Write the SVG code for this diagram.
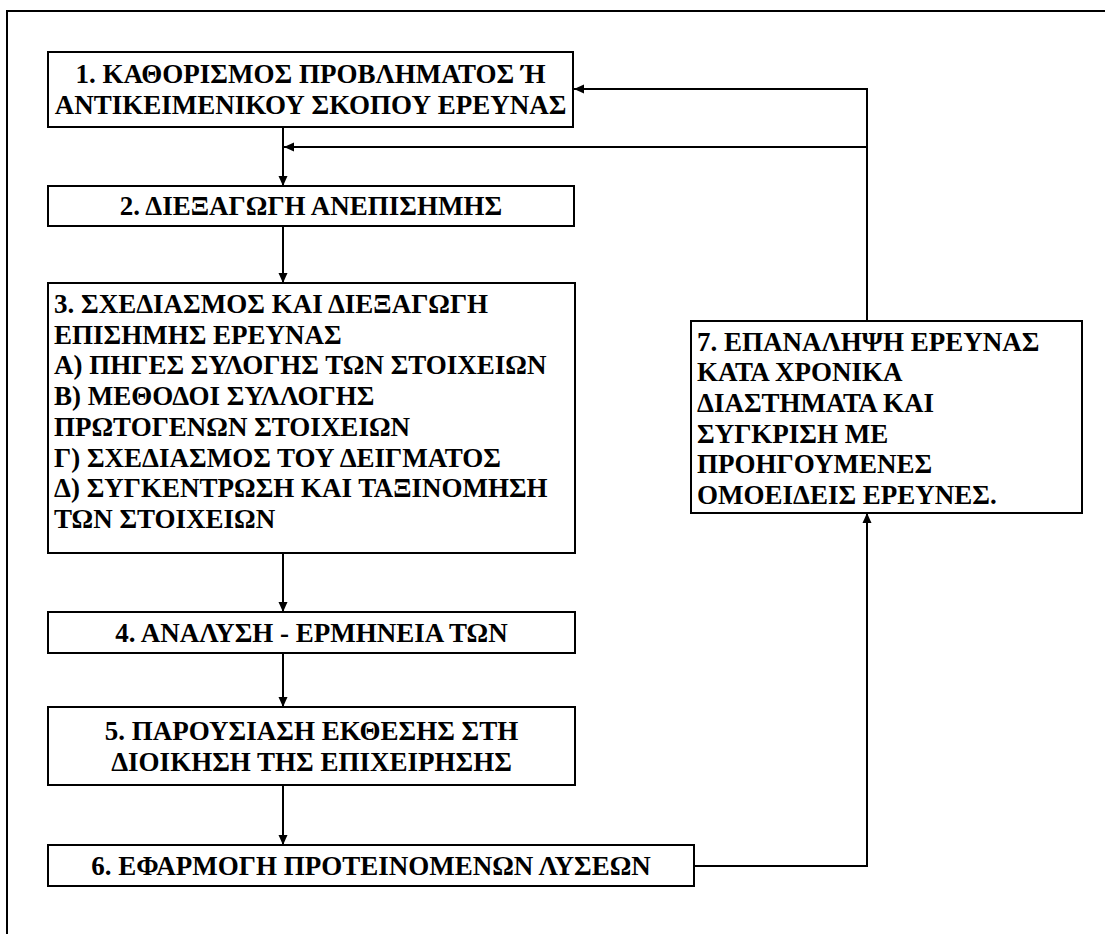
<svg xmlns="http://www.w3.org/2000/svg" width="1105" height="934" viewBox="0 0 1105 934">
  <style>
    .box { fill: #ffffff; stroke: #000000; stroke-width: 2; }
    .frame { fill: none; stroke: #000000; stroke-width: 2; }
    .wire { fill: none; stroke: #000000; stroke-width: 2; }
    .lbl { font-family: "Liberation Serif", "Times New Roman", serif; font-weight: bold; font-size: 27px; fill: #000000; }
    .c { text-anchor: middle; }
  </style>
  <defs>
    <marker id="arrow" viewBox="0 0 10 10" refX="10" refY="5" markerWidth="10" markerHeight="10" markerUnits="userSpaceOnUse" orient="auto">
      <path d="M0,0.5 L10,5 L0,9.5 Z" fill="#000000"/>
    </marker>
  </defs>

  <rect width="1105" height="934" fill="#ffffff"/>

  <!-- page frame (open at right and bottom) -->
  <path class="frame" d="M7,934 V11 H1105"/>

  <!-- connectors -->
  <g id="connectors">
    <line class="wire" x1="283" y1="127" x2="283" y2="186" marker-end="url(#arrow)"/>
    <line class="wire" x1="283" y1="226" x2="283" y2="283" marker-end="url(#arrow)"/>
    <line class="wire" x1="283" y1="553" x2="283" y2="612" marker-end="url(#arrow)"/>
    <line class="wire" x1="283" y1="653" x2="283" y2="707" marker-end="url(#arrow)"/>
    <line class="wire" x1="283" y1="785" x2="283" y2="845" marker-end="url(#arrow)"/>
    <!-- 6 -> 7 -->
    <polyline class="wire" points="694,866 867,866 867,513" marker-end="url(#arrow)"/>
    <!-- 7 -> 1 -->
    <polyline class="wire" points="867,321 867,89 574,89" marker-end="url(#arrow)"/>
    <!-- 7 -> into the 1-2 link -->
    <polyline class="wire" points="867,147 284,147" marker-end="url(#arrow)"/>
  </g>

  <g id="node1">
    <rect class="box" x="48" y="52" width="525" height="75"/>
    <text class="lbl c" x="310.5" y="83">1. ΚΑΘΟΡΙΣΜΟΣ ΠΡΟΒΛΗΜΑΤΟΣ Ή</text>
    <text class="lbl c" x="310.5" y="114">ΑΝΤΙΚΕΙΜΕΝΙΚΟΥ ΣΚΟΠΟΥ ΕΡΕΥΝΑΣ</text>
  </g>

  <g id="node2">
    <rect class="box" x="48" y="186" width="526" height="40"/>
    <text class="lbl c" x="311" y="215">2. ΔΙΕΞΑΓΩΓΗ ΑΝΕΠΙΣΗΜΗΣ</text>
  </g>

  <g id="node3">
    <rect class="box" x="48" y="283" width="527" height="270"/>
    <text class="lbl" x="54" y="313">3. ΣΧΕΔΙΑΣΜΟΣ ΚΑΙ ΔΙΕΞΑΓΩΓΗ</text>
    <text class="lbl" x="54" y="344">ΕΠΙΣΗΜΗΣ ΕΡΕΥΝΑΣ</text>
    <text class="lbl" x="54" y="374">Α) ΠΗΓΕΣ ΣΥΛΟΓΗΣ ΤΩΝ ΣΤΟΙΧΕΙΩΝ</text>
    <text class="lbl" x="54" y="405">Β) ΜΕΘΟΔΟΙ ΣΥΛΛΟΓΗΣ</text>
    <text class="lbl" x="54" y="436">ΠΡΩΤΟΓΕΝΩΝ ΣΤΟΙΧΕΙΩΝ</text>
    <text class="lbl" x="54" y="467">Γ) ΣΧΕΔΙΑΣΜΟΣ ΤΟΥ ΔΕΙΓΜΑΤΟΣ</text>
    <text class="lbl" x="54" y="497">Δ) ΣΥΓΚΕΝΤΡΩΣΗ ΚΑΙ ΤΑΞΙΝΟΜΗΣΗ</text>
    <text class="lbl" x="54" y="528">ΤΩΝ ΣΤΟΙΧΕΙΩΝ</text>
  </g>

  <g id="node4">
    <rect class="box" x="48" y="612" width="527" height="41"/>
    <text class="lbl c" x="311.5" y="642">4. ΑΝΑΛΥΣΗ - ΕΡΜΗΝΕΙΑ ΤΩΝ</text>
  </g>

  <g id="node5">
    <rect class="box" x="48" y="707" width="527" height="78"/>
    <text class="lbl c" x="311.5" y="740">5. ΠΑΡΟΥΣΙΑΣΗ ΕΚΘΕΣΗΣ ΣΤΗ</text>
    <text class="lbl c" x="311.5" y="771">ΔΙΟΙΚΗΣΗ ΤΗΣ ΕΠΙΧΕΙΡΗΣΗΣ</text>
  </g>

  <g id="node6">
    <rect class="box" x="48" y="845" width="646" height="41"/>
    <text class="lbl c" x="371" y="875">6. ΕΦΑΡΜΟΓΗ ΠΡΟΤΕΙΝΟΜΕΝΩΝ ΛΥΣΕΩΝ</text>
  </g>

  <g id="node7">
    <rect class="box" x="691" y="321" width="391" height="192"/>
    <text class="lbl" x="697" y="351">7. ΕΠΑΝΑΛΗΨΗ ΕΡΕΥΝΑΣ</text>
    <text class="lbl" x="697" y="381">ΚΑΤΑ ΧΡΟΝΙΚΑ</text>
    <text class="lbl" x="697" y="412">ΔΙΑΣΤΗΜΑΤΑ ΚΑΙ</text>
    <text class="lbl" x="697" y="443">ΣΥΓΚΡΙΣΗ ΜΕ</text>
    <text class="lbl" x="697" y="473">ΠΡΟΗΓΟΥΜΕΝΕΣ</text>
    <text class="lbl" x="697" y="504">ΟΜΟΕΙΔΕΙΣ ΕΡΕΥΝΕΣ.</text>
  </g>
</svg>
